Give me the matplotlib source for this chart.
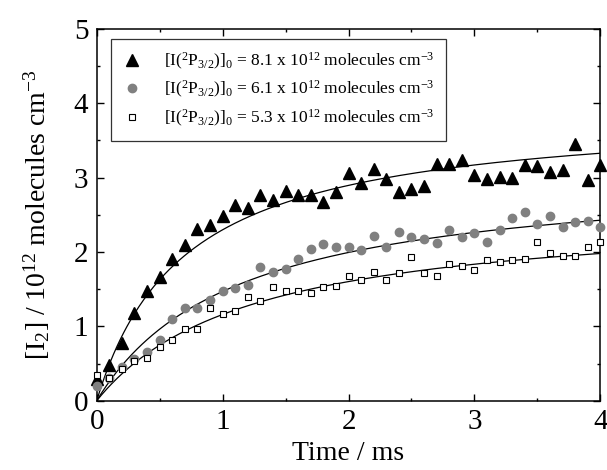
import numpy as np
import matplotlib.pyplot as plt
from matplotlib.ticker import MultipleLocator

plt.rcParams['font.family'] = ['Liberation Serif', 'DejaVu Serif']
plt.rcParams['mathtext.fontset'] = 'custom'
plt.rcParams['mathtext.rm'] = 'Liberation Serif'
plt.rcParams['mathtext.it'] = 'Liberation Serif:italic'

# time axis, ms
time_ms = np.round(np.arange(0, 4.01, 0.1), 2)

# [I2] / 1e12 molecules cm^-3
i2_high = [0.29, 0.48, 0.78, 1.18, 1.47, 1.66, 1.91, 2.09, 2.31, 2.36,
           2.48, 2.63, 2.59, 2.76, 2.70, 2.82, 2.77, 2.76, 2.67, 2.80,
           3.06, 2.92, 3.12, 2.98, 2.81, 2.84, 2.88, 3.18, 3.18, 3.23,
           3.03, 2.98, 3.01, 2.99, 3.17, 3.16, 3.08, 3.10, 3.45, 2.96,
           3.17]
i2_mid = [0.20, 0.30, 0.45, 0.56, 0.65, 0.82, 1.10, 1.25, 1.24, 1.35,
          1.47, 1.52, 1.56, 1.80, 1.73, 1.77, 1.90, 2.04, 2.10, 2.06,
          2.06, 2.03, 2.21, 2.06, 2.27, 2.20, 2.17, 2.12, 2.29, 2.20,
          2.25, 2.14, 2.30, 2.45, 2.53, 2.37, 2.48, 2.34, 2.40, 2.42,
          2.34]
i2_low = [0.34, 0.31, 0.42, 0.53, 0.58, 0.72, 0.81, 0.96, 0.97, 1.24,
          1.16, 1.21, 1.40, 1.34, 1.53, 1.48, 1.47, 1.45, 1.53, 1.54,
          1.68, 1.62, 1.73, 1.62, 1.71, 1.93, 1.71, 1.67, 1.84, 1.81,
          1.76, 1.89, 1.87, 1.89, 1.90, 2.13, 1.99, 1.95, 1.94, 2.07,
          2.14]

# second-order fit curves: A*k*t/(1+k*t)
fit_amp = [3.91, 3.10, 2.59]
fit_rate = [1.425, 0.90, 0.81]

labels = [
    r'$[\mathrm{I}(^{2}\mathrm{P}_{3/2})]_0$ = 8.1 x 10$^{12}$ molecules cm$^{-3}$',
    r'$[\mathrm{I}(^{2}\mathrm{P}_{3/2})]_0$ = 6.1 x 10$^{12}$ molecules cm$^{-3}$',
    r'$[\mathrm{I}(^{2}\mathrm{P}_{3/2})]_0$ = 5.3 x 10$^{12}$ molecules cm$^{-3}$',
]

fig = plt.figure(figsize=(6.07, 4.70), dpi=100)
ax = fig.add_axes([0.1593, 0.1474, 0.8297, 0.7915])

ax.plot(time_ms, i2_high, ls='none', marker='^', ms=9, color='black', label=labels[0],
        clip_on=False, zorder=3)
ax.plot(time_ms, i2_mid, ls='none', marker='o', ms=6, color='#808080', mec='#808080',
        label=labels[1], clip_on=False, zorder=3)
ax.plot(time_ms, i2_low, ls='none', marker='s', ms=5, mfc='white', mec='black', mew=0.8,
        label=labels[2], clip_on=False, zorder=3)

t_fit = np.linspace(0, 4, 300)
for a, k in zip(fit_amp, fit_rate):
    ax.plot(t_fit, a * k * t_fit / (1 + k * t_fit), color='black', lw=0.9, zorder=2)

ax.set_xlim(0, 4)
ax.set_ylim(0, 5)
ax.xaxis.set_major_locator(MultipleLocator(1))
ax.xaxis.set_minor_locator(MultipleLocator(0.5))
ax.yaxis.set_major_locator(MultipleLocator(1))
ax.yaxis.set_minor_locator(MultipleLocator(0.5))
ax.tick_params(which='both', direction='in', top=True, right=True, labelsize=21, width=1)
ax.tick_params(which='major', length=5, pad=6)
ax.tick_params(which='minor', length=2.5)
for s in ax.spines.values():
    s.set_linewidth(1.1)

ax.set_xlabel('Time / ms', fontsize=20, labelpad=4)
ax.set_ylabel(r'[I$_2$] / 10$^{12}$ molecules cm$^{-3}$', fontsize=20, labelpad=16)

leg = ax.legend(loc='upper left', bbox_to_anchor=(0.028, 0.972), borderaxespad=0,
                fontsize=12.5, frameon=True, fancybox=False, edgecolor='black',
                handletextpad=1.2, borderpad=0.65, labelspacing=0.45, handlelength=1.2)
leg.get_frame().set_linewidth(0.9)

fig.savefig('out.png', dpi=100)
